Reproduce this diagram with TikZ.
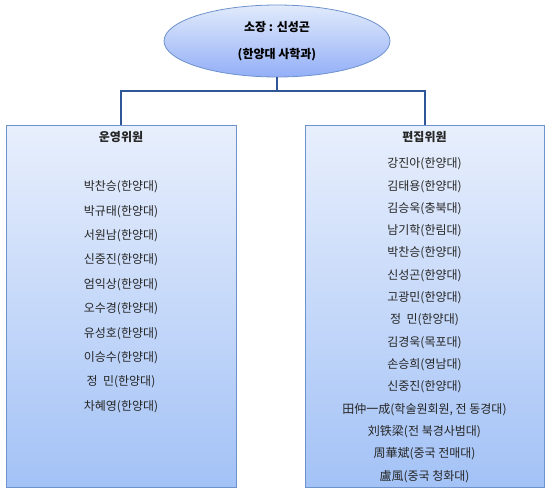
\documentclass[tikz,border=0pt]{standalone}
\usepackage{fontspec}
\setmainfont{Noto Sans CJK KR}
\usepackage{tikz}
\usetikzlibrary{
    positioning,
    shapes.geometric,
    shadows
}
\definecolor{lineblue}{RGB}{47,86,150}
\definecolor{edgeblue}{RGB}{110,146,204}
\definecolor{topblue}{RGB}{232,239,252}
\definecolor{botblue}{RGB}{163,194,246}
\tikzset{
    head/.style={
        ellipse,
        draw=edgeblue,
        line width=0.8pt,
        top color=topblue!90!botblue,
        bottom color=botblue!90!blue,
        minimum width=226pt,
        minimum height=72pt,
        align=center,
        font=\fontsize{12}{14}\selectfont\bfseries
    },
    panel/.style={
        rectangle,
        draw=edgeblue,
        line width=0.8pt,
        top color=topblue,
        bottom color=botblue,
        minimum height=362pt,
        drop shadow={shadow xshift=1.2pt, shadow yshift=-1.2pt, opacity=0.35}
    },
    ptitle/.style={
        font=\fontsize{12}{14}\selectfont\bfseries,
        text=black!85
    },
    member/.style={
        font=\fontsize{12}{14}\selectfont,
        text=black!85,
        inner sep=1pt
    },
    conn/.style={
        draw=lineblue,
        line width=2pt
    }
}

\begin{document}
\begin{tikzpicture}[x=1pt, y=-1pt]
    \useasboundingbox (0,0) rectangle (552,498);

    % Cajas
    \node[panel, minimum width=230pt] (opbox) at (121,306) {};
    \node[panel, minimum width=239pt] (edbox) at (424.5,306) {};
    \node[head] (head) at (277,41) {소장 : 신성곤\\[13pt](한양대 사학과)};

    % Lineas
    \draw[conn] (head.south) -- ++(0,14) coordinate (split);
    \draw[conn] (split) -| (opbox.north);
    \draw[conn] (split) -| (edbox.north);

    % Titulos
    \node[ptitle] (optitle) at (121,137) {운영위원};
    \node[ptitle] (edtitle) at (424.5,137) {편집위원};

    % Miembros
    \foreach \name [count=\i from 0] in {
        박찬승(한양대), 박규태(한양대), 서원남(한양대), 신중진(한양대),
        엄익상(한양대), 오수경(한양대), 유성호(한양대), 이승수(한양대),
        정\ \ 민(한양대), 차혜영(한양대)}
        \node[member] (op\i) at (121,187+24.4*\i) {\name};

    \foreach \name [count=\i from 0] in {
        강진아(한양대), 김태용(한양대), 김승욱(충북대), 남기학(한림대),
        박찬승(한양대), 신성곤(한양대), 고광민(한양대), 정\ \ 민(한양대),
        김경욱(목포대), 손승희(영남대), 신중진(한양대),
        {田仲一成(학술원회원, 전 동경대)}, 刘铁梁(전 북경사범대),
        周華斌(중국 전매대), 盧風(중국 청화대)}
        \node[member] (ed\i) at (424.5,164+22.3*\i) {\name};

\end{tikzpicture}
\end{document}
